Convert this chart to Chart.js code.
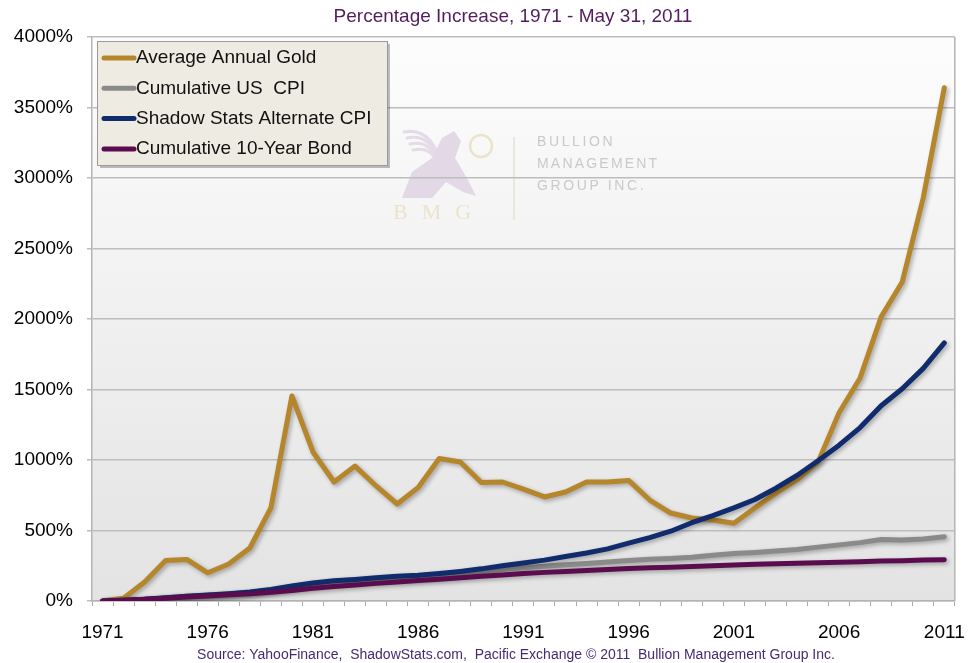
<!DOCTYPE html>
<html>
<head>
<meta charset="utf-8">
<title>Gold vs CPI vs Bonds</title>
<script src="https://cdn.jsdelivr.net/npm/chart.js@4.4.0/dist/chart.umd.min.js"></script>
<style>
    html, body { margin: 0; background: #fff; }
    canvas { display: block; }
</style>
</head>
<body>
<canvas id="myChart" width="980" height="663"></canvas>
<script>
const years = [
    "1971", "1972", "1973", "1974", "1975", "1976", "1977", "1978", "1979", "1980",
    "1981", "1982", "1983", "1984", "1985", "1986", "1987", "1988", "1989", "1990",
    "1991", "1992", "1993", "1994", "1995", "1996", "1997", "1998", "1999", "2000",
    "2001", "2002", "2003", "2004", "2005", "2006", "2007", "2008", "2009", "2010",
    "2011"
];

// percentage increase since 1971
const goldPct = [
    0, 20, 135, 287, 295, 200, 262, 376, 660, 1454,
    1057, 844, 957, 816, 688, 805, 1010, 986, 840, 844,
    794, 738, 773, 844, 844, 855, 716, 624, 589, 575,
    552, 660, 765, 860, 985, 1335, 1582, 2015, 2262, 2860,
    3640
];
const usCpiPct = [
    0, 3, 10, 22, 33, 40, 50, 61, 79, 103,
    124, 138, 146, 157, 166, 171, 180, 192, 206, 223,
    236, 246, 257, 266, 276, 287, 296, 302, 311, 325,
    337, 344, 354, 366, 382, 398, 414, 436, 432, 440,
    455
];
const shadowCpiPct = [
    0, 5, 12, 23, 33, 42, 52, 64, 82, 106,
    128, 143, 153, 165, 175, 183, 195, 210, 228, 250,
    270, 290, 315, 340, 370, 410, 450, 495, 555, 605,
    660, 720, 800, 890, 995, 1105, 1230, 1385, 1505, 1650,
    1830
];
const bondPct = [
    0, 6, 12, 20, 28, 36, 44, 52, 62, 75,
    90, 103, 114, 125, 135, 145, 155, 165, 175, 185,
    195, 203, 210, 217, 224, 230, 236, 240, 244, 250,
    256, 260, 264, 268, 271, 275, 279, 283, 286, 290,
    293
];

const seriesNames = ["Average Annual Gold", "Cumulative US  CPI", "Shadow Stats Alternate CPI", "Cumulative 10-Year Bond"];
const seriesColors = ["#b5862b", "#8a8a8a", "#102c6c", "#5a0c4f"];

const FONT = "'Liberation Sans', Arial, sans-serif";

// background, border, watermark, legend, captions
const decorPlugin = {
    id: 'decor',
    beforeDraw(chart) {
        const { ctx, chartArea: a } = chart;
        ctx.save();
        ctx.fillStyle = '#ffffff';
        ctx.fillRect(0, 0, chart.width, chart.height);
        const g = ctx.createLinearGradient(0, a.top, 0, a.bottom);
        g.addColorStop(0, '#fdfdfd');
        g.addColorStop(1, '#e3e3e3');
        ctx.fillStyle = g;
        ctx.fillRect(a.left, a.top, a.right - a.left, a.bottom - a.top);

        // watermark
        ctx.strokeStyle = '#e6e1d4';
        ctx.lineWidth = 1.5;
        ctx.beginPath();
        ctx.moveTo(514, 137);
        ctx.lineTo(514, 220);
        ctx.stroke();
        ctx.strokeStyle = '#ece3cb';
        ctx.lineWidth = 2.5;
        ctx.beginPath();
        ctx.arc(481, 146, 11, 0, Math.PI * 2);
        ctx.stroke();
        // rough griffin: wing strokes and body
        ctx.strokeStyle = '#e4dbe8';
        ctx.lineWidth = 3;
        ctx.lineCap = 'round';
        for (let k = 0; k < 4; k++) {
            ctx.beginPath();
            ctx.moveTo(404 + k * 3, 132 + k * 6);
            ctx.quadraticCurveTo(425 + k * 2, 128 + k * 6, 436, 150 + k * 4);
            ctx.stroke();
        }
        ctx.fillStyle = '#e2d8e6';
        ctx.beginPath();
        ctx.moveTo(402, 198);
        ctx.lineTo(412, 172);
        ctx.lineTo(432, 158);
        ctx.lineTo(442, 138);
        ctx.lineTo(454, 131);
        ctx.lineTo(461, 141);
        ctx.lineTo(455, 158);
        ctx.lineTo(468, 180);
        ctx.lineTo(476, 196);
        ctx.lineTo(463, 192);
        ctx.lineTo(446, 182);
        ctx.lineTo(432, 198);
        ctx.closePath();
        ctx.fill();
        ctx.fillStyle = '#ccc8c8';
        ctx.font = "14px " + FONT;
        ctx.textBaseline = 'middle';
        ctx.textAlign = 'left';
        const spaced = (s, x, y, sp) => {
            for (const ch of s) {
                ctx.fillText(ch, x, y);
                x += ctx.measureText(ch).width + sp;
            }
        };
        spaced("BULLION", 537, 142, 2.6);
        spaced("MANAGEMENT", 537, 164, 2.2);
        spaced("GROUP INC.", 537, 186, 2.6);
        ctx.fillStyle = '#ebe3cc';
        ctx.font = "22px 'Liberation Serif', serif";
        spaced("BMG", 393, 213, 14);
        ctx.restore();
    },
    beforeDatasetsDraw(chart) {
        const { ctx, chartArea: a } = chart;
        ctx.save();
        ctx.strokeStyle = '#b4b4b4';
        ctx.lineWidth = 1.5;
        ctx.beginPath();
        ctx.moveTo(a.right, a.top);
        ctx.lineTo(a.right, a.bottom);
        ctx.stroke();
        ctx.restore();
    },
    beforeDatasetDraw(chart) {
        const ctx = chart.ctx;
        ctx.save();
        ctx.shadowColor = 'rgba(0,0,0,0.3)';
        ctx.shadowBlur = 4;
        ctx.shadowOffsetX = 2;
        ctx.shadowOffsetY = 2;
    },
    afterDatasetDraw(chart) {
        chart.ctx.restore();
    },
    afterDraw(chart) {
        const ctx = chart.ctx;
        ctx.save();
        // legend box
        const bx = 97, by = 41, bw = 290, bh = 124;
        ctx.fillStyle = 'rgba(0,0,0,0.25)';
        ctx.fillRect(bx + 3, by + 3, bw, bh);
        ctx.fillStyle = '#eeece2';
        ctx.fillRect(bx, by, bw, bh);
        ctx.strokeStyle = '#9a9a9a';
        ctx.lineWidth = 1;
        ctx.strokeRect(bx + 0.5, by + 0.5, bw, bh);
        ctx.font = "19px " + FONT;
        ctx.textBaseline = 'middle';
        ctx.textAlign = 'left';
        chart.data.datasets.forEach((ds, i) => {
            const y = 58 + i * 30.3;
            ctx.strokeStyle = ds.borderColor;
            ctx.lineWidth = 5;
            ctx.lineCap = 'round';
            ctx.beginPath();
            ctx.moveTo(104, y);
            ctx.lineTo(134, y);
            ctx.stroke();
            ctx.fillStyle = '#111';
            ctx.fillText(ds.label, 136, y);
        });

        // subtitle and source
        ctx.textAlign = 'center';
        ctx.fillStyle = '#521d5e';
        ctx.font = "19px " + FONT;
        ctx.fillText("Percentage Increase, 1971 - May 31, 2011", 513, 17);
        ctx.fillStyle = '#472a73';
        ctx.font = "14px " + FONT;
        ctx.fillText("Source: YahooFinance,  ShadowStats.com,  Pacific Exchange \u00a9 2011  Bullion Management Group Inc.", 516, 655);
        ctx.restore();
    }
};

function lineSet(data, i, order) {
    return {
        label: seriesNames[i],
        data: data,
        borderColor: seriesColors[i],
        backgroundColor: seriesColors[i],
        borderWidth: 5,
        pointRadius: 0,
        tension: 0,
        fill: false,
        borderCapStyle: 'round',
        borderJoinStyle: 'round',
        order: order
    };
}

new Chart(document.getElementById("myChart"), {
    type: 'line',
    data: {
        labels: years,
        datasets: [
            lineSet(goldPct, 0, 3),
            lineSet(usCpiPct, 1, 2),
            lineSet(shadowCpiPct, 2, 1),
            lineSet(bondPct, 3, 0)
        ]
    },
    options: {
        responsive: false,
        animation: false,
        layout: { padding: { top: 37, right: 23, left: 0, bottom: 0 } },
        scales: {
            x: {
                offset: true,
                grid: { display: true, offset: true, drawOnChartArea: false, tickLength: 5, color: '#a8a8a8' },
                border: { color: '#b4b4b4', width: 1.5 },
                ticks: {
                    autoSkip: false,
                    maxRotation: 0,
                    padding: 15,
                    color: '#000',
                    font: { family: FONT, size: 19 },
                    callback: function (v, idx) { return idx % 5 === 0 ? years[idx] : ''; }
                },
                afterFit: function (axis) { axis.height = 62; }
            },
            y: {
                min: 0,
                max: 4000,
                grid: { color: '#bdbdbd', lineWidth: 1.5, tickLength: 5 },
                border: { color: '#b4b4b4', width: 1.5 },
                ticks: {
                    stepSize: 500,
                    padding: 14,
                    color: '#000',
                    font: { family: FONT, size: 19 },
                    callback: function (v) { return v + '%'; }
                },
                afterFit: function (axis) { axis.width = 92; }
            }
        },
        plugins: {
            legend: { display: false },
            tooltip: { enabled: false },
            title: { display: false }
        }
    },
    plugins: [decorPlugin]
});
</script>
</body>
</html>
